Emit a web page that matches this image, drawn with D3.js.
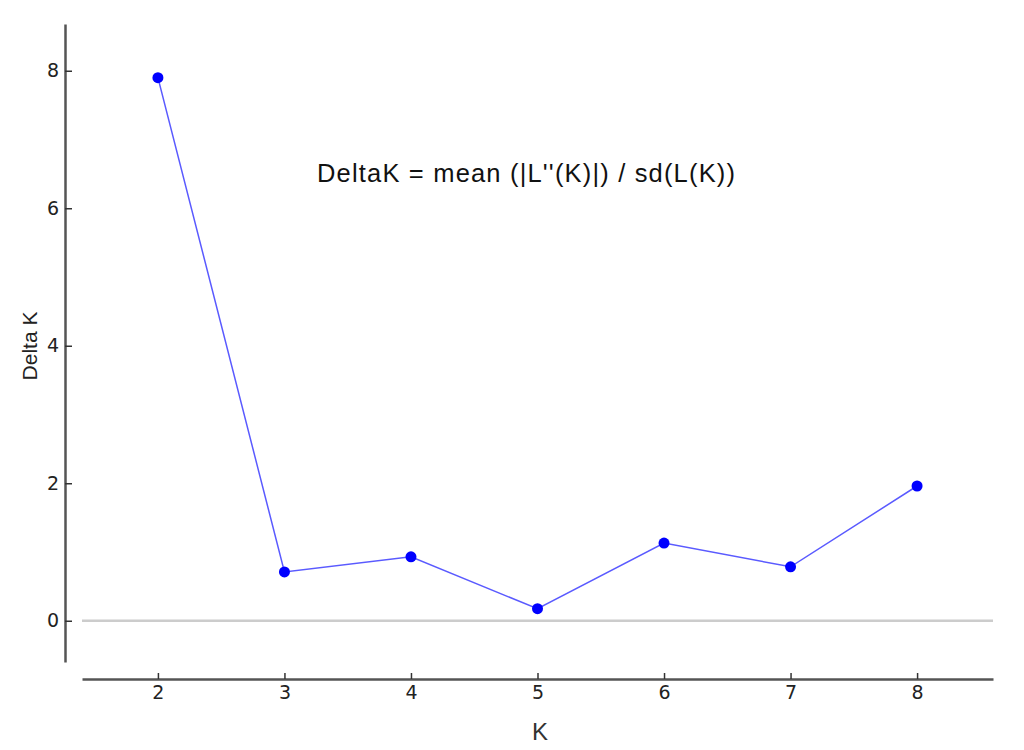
<!DOCTYPE html>
<html><head><meta charset="utf-8">
<script src="https://cdn.jsdelivr.net/npm/d3@7"></script>
<style>body{margin:0;background:#fff}svg{display:block}</style>
</head><body>
<svg id="c" width="1024" height="750"></svg>
<script>
const kValues = [2, 3, 4, 5, 6, 7, 8];
const deltaK = [7.90, 0.71, 0.93, 0.175, 1.13, 0.785, 1.96];
const yTicks = [0, 2, 4, 6, 8];
const xTicks = [2, 3, 4, 5, 6, 7, 8];
const annotation = "DeltaK = mean  (|L''(K)|) / sd(L(K))";

const svg = d3.select("#c");
const x = d3.scaleLinear().domain([1.4, 8.6]).range([82, 993]);
const y = d3.scaleLinear().domain([-0.6, 8.68]).range([662, 24]);

// zero line
svg.append("line").attr("x1", 82).attr("x2", 993).attr("y1", y(0)).attr("y2", y(0))
  .attr("stroke", "#cccccc").attr("stroke-width", 2.5);

const yAxis = svg.append("g").attr("transform", "translate(65,0)")
  .call(d3.axisLeft(y).tickValues(yTicks).tickSizeInner(-7).tickSizeOuter(0).tickPadding(6).tickFormat(d3.format("d")));
const xAxis = svg.append("g").attr("transform", "translate(0,679)")
  .call(d3.axisBottom(x).tickValues(xTicks).tickSizeInner(-6).tickSizeOuter(0).tickPadding(7).tickFormat(d3.format("d")));
[yAxis, xAxis].forEach(g => {
  g.select(".domain").attr("stroke", "#555").attr("stroke-width", 2.5);
  g.selectAll(".tick line").attr("stroke", "#333").attr("stroke-width", 1.5);
  g.selectAll(".tick text").attr("fill", "#222").attr("font-family", "DejaVu Sans").attr("font-size", 19);
});

const data = kValues.map((k, i) => ({k, v: deltaK[i]}));
svg.append("path").datum(data)
  .attr("fill", "none").attr("stroke", "#5a5aff").attr("stroke-width", 1.5)
  .attr("d", d3.line().x(d => x(d.k)).y(d => y(d.v)));
svg.selectAll("circle.pt").data(data).enter().append("circle")
  .attr("class", "pt").attr("cx", d => x(d.k)).attr("cy", d => y(d.v)).attr("r", 5.5)
  .attr("fill", "#0000ff");

svg.append("text").attr("x", 317).attr("y", 182)
  .attr("font-family", "Liberation Sans, Arial").attr("font-size", 25.5).attr("fill", "#111")
  .attr("textLength", 418).attr("lengthAdjust", "spacing").text(annotation);

svg.append("text").attr("transform", "translate(37,346) rotate(-90)").attr("text-anchor", "middle")
  .attr("font-family", "Liberation Sans, Arial").attr("font-size", 21).attr("fill", "#222").text("Delta K");

svg.append("text").attr("x", 540).attr("y", 740).attr("text-anchor", "middle")
  .attr("font-family", "Liberation Sans, Arial").attr("font-size", 24).attr("fill", "#333").text("K");
</script>
</body></html>
